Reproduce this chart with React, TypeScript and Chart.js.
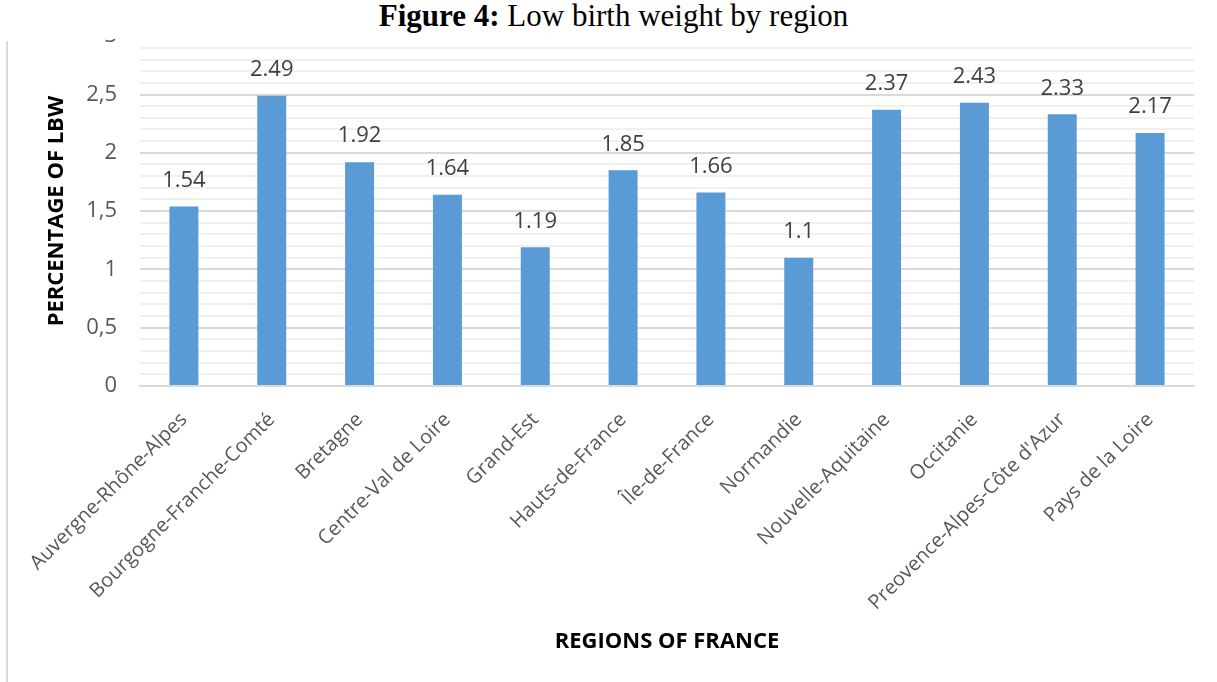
import React, { useEffect, useRef } from "react";
import { Chart, registerables } from "chart.js";

Chart.register(...registerables);

const regions = [
  "Auvergne-Rhône-Alpes",
  "Bourgogne-Franche-Comté",
  "Bretagne",
  "Centre-Val de Loire",
  "Grand-Est",
  "Hauts-de-France",
  "Île-de-France",
  "Normandie",
  "Nouvelle-Aquitaine",
  "Occitanie",
  "Preovence-Alpes-Côte d'Azur",
  "Pays de la Loire",
];
const lbwValues = [1.54, 2.49, 1.92, 1.64, 1.19, 1.85, 1.66, 1.1, 2.37, 2.43, 2.33, 2.17];
const yMin = 0;
const yMax = 3;
const yStep = 0.1;
const yMajorStep = 0.5;

const FONT = "'Open Sans', 'DejaVu Sans', sans-serif";

const isMajor = (v: number) => Math.abs(v / yMajorStep - Math.round(v / yMajorStep)) < 1e-6;

const valueLabels = {
  id: "valueLabels",
  afterDatasetsDraw(chart: any) {
    const { ctx } = chart;
    const meta = chart.getDatasetMeta(0);
    const ds = chart.data.datasets[0];
    ctx.save();
    ctx.font = `22px ${FONT}`;
    ctx.fillStyle = "#404040";
    ctx.textAlign = "center";
    ctx.textBaseline = "middle";
    meta.data.forEach((bar: any, i: number) => {
      ctx.fillText(String(ds.data[i]), bar.x, bar.y - 26);
    });
    ctx.restore();
  },
};

export default function App() {
  const ref = useRef<HTMLCanvasElement | null>(null);
  useEffect(() => {
    if (!ref.current) return;
    const chart = new Chart(ref.current, {
      type: "bar",
      data: {
        labels: regions,
        datasets: [
          {
            data: lbwValues,
            backgroundColor: "#5b9bd5",
            borderWidth: 0,
            barPercentage: 0.33,
            categoryPercentage: 1,
          },
        ],
      },
      options: {
        animation: false,
        responsive: false,
        maintainAspectRatio: false,
        layout: { padding: { left: 0, right: 23, top: 35, bottom: 0 } },
        plugins: { legend: { display: false }, tooltip: { enabled: false }, title: { display: false } },
        scales: {
          x: {
            grid: { display: false, drawTicks: false },
            border: { display: true, color: "#d9d9d9", width: 2 },
            ticks: {
              minRotation: 45,
              maxRotation: 45,
              autoSkip: false,
              padding: 22,
              color: "#595959",
              font: { family: FONT, size: 20 },
            },
            title: {
              display: true,
              text: "REGIONS OF FRANCE",
              color: "#000000",
              font: { family: FONT, size: 22, weight: "bold" },
              padding: { top: 0, bottom: 27 },
            },
            afterFit(scale: any) {
              scale.height = 296;
            },
          },
          y: {
            min: yMin,
            max: yMax,
            grid: {
              drawTicks: false,
              color: (c: any) => (isMajor(c.tick.value) ? "#d9d9d9" : "#f0f0f0"),
              lineWidth: 2,
            },
            border: { display: false },
            ticks: {
              stepSize: yStep,
              autoSkip: false,
              padding: 23,
              color: "#595959",
              font: { family: FONT, size: 22 },
              callback: (v: any) => {
                const n = Number(v);
                if (!isMajor(n)) return "";
                return String(Math.round(n * 10) / 10).replace(".", ",");
              },
            },
            title: {
              display: true,
              text: "PERCENTAGE OF LBW",
              color: "#000000",
              font: { family: FONT, size: 22, weight: "bold" },
              padding: { top: 44, bottom: 0 },
            },
            afterFit(scale: any) {
              scale.width = 140;
            },
          },
        },
      },
      plugins: [valueLabels],
    });
    return () => chart.destroy();
  }, []);

  return (
    <div style={{ position: "fixed", left: 0, top: 0, width: 1217, height: 682, background: "#ffffff", overflow: "hidden" }}>
      <canvas ref={ref} width={1217} height={682} style={{ position: "absolute", left: 0, top: 0, width: 1217, height: 682 }} />
      <div
        style={{
          position: "absolute",
          left: 0,
          top: 0,
          width: 1217,
          height: 39,
          background: "#ffffff",
        }}
      />
      <div
        style={{
          position: "absolute",
          left: 6,
          top: 41,
          width: 2,
          height: 641,
          background: "#d9d9d9",
        }}
      />
      <div
        style={{
          position: "absolute",
          left: 0,
          top: -1,
          width: 1227,
          textAlign: "center",
          fontFamily: "'Liberation Serif', 'Times New Roman', serif",
          fontSize: 31,
          lineHeight: "34px",
          color: "#000000",
        }}
      >
        <b>Figure 4:</b> Low birth weight by region
      </div>
    </div>
  );
}
